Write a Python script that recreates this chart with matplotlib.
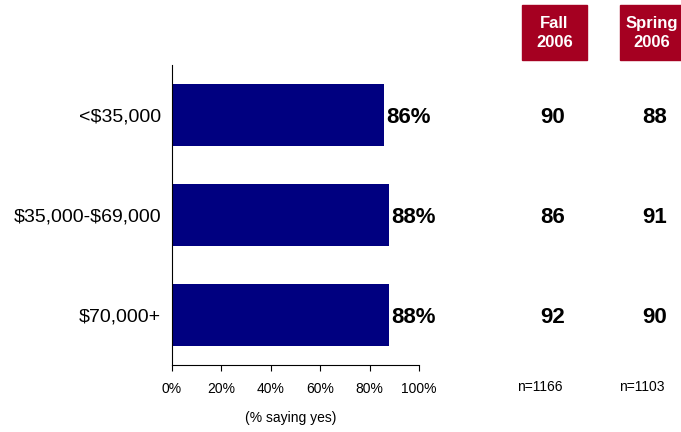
import matplotlib.pyplot as plt
from matplotlib.patches import Rectangle
import matplotlib.transforms as mtransforms
from matplotlib import font_manager

categorias = ['<$35,000', '$35,000-$69,000', '$70,000+']
valores = [86, 88, 88]
otono = [90, 86, 92]
primavera = [88, 91, 90]
encabezados = ['Fall\n2006', 'Spring\n2006']
muestras = ['n=1166', 'n=1103']
ticks_x = [0, 20, 40, 60, 80, 100]

AZUL = '#000080'
ROJO = '#A50021'

plt.rcParams['font.family'] = ['Liberation Sans', 'DejaVu Sans']
plt.rcParams['text.parse_math'] = False

nombres = {f.name for f in font_manager.fontManager.ttflist}
hay_narrow = 'Liberation Sans Narrow' in nombres

fig = plt.figure(figsize=(6.81, 4.32), dpi=100)
ax = fig.add_axes([0.2526, 0.155, 0.3627, 0.6945])

pos = list(range(len(categorias)))
ax.barh(pos, valores, height=0.62, color=AZUL)
for p, v in zip(pos, valores):
    ax.text(v + 0.8, p + 0.02, f'{v}%', va='center', ha='left', fontsize=16, fontweight='bold')

ax.set_ylim(2.5, -0.5)
ax.set_xlim(0, 100)
ax.set_yticks(pos)
ax.set_yticklabels(categorias, fontsize=14)
ax.tick_params(axis='y', length=0, pad=8)
ax.set_xticks(ticks_x)
ax.set_xticklabels([f'{t}%' for t in ticks_x], fontsize=10)
ax.tick_params(axis='x', direction='out', length=4, pad=8)
ax.spines['top'].set_visible(False)
ax.spines['right'].set_visible(False)
ax.spines['left'].set_linewidth(0.8)
ax.spines['bottom'].set_linewidth(0.8)

fig.text(291 / 681, 1 - 418 / 432, '(% saying yes)', ha='center', va='center', fontsize=10)

# columnas de la derecha
trans = mtransforms.blended_transform_factory(fig.transFigure, ax.transData)
col_x = [553 / 681, 655 / 681]
cajas = [(522, 587), (620, 684)]
fam_enc = ['Liberation Sans Narrow', 'Liberation Sans'] if hay_narrow else ['Liberation Sans']
tam_enc = 13 if hay_narrow else 12
for cx, (x0, x1), enc, serie, n in zip(col_x, cajas, encabezados, [otono, primavera], muestras):
    fig.patches.append(Rectangle((x0 / 681, 1 - 60 / 432), (x1 - x0) / 681, 55 / 432,
                                 transform=fig.transFigure, color=ROJO, zorder=0))
    fig.text((x0 + x1) / 2 / 681, 1 - 33 / 432, enc, ha='center', va='center',
             color='white', fontsize=tam_enc, fontweight='bold', linespacing=1.4,
             family=fam_enc)
    for p, v in zip(pos, serie):
        ax.text(cx, p + 0.02, str(v), transform=trans, ha='center', va='center',
                fontsize=16, fontweight='bold')
    fig.text(cx - 13 / 681, 1 - 387 / 432, n, ha='center', va='center', fontsize=10)

fig.savefig('out.png', dpi=100)
